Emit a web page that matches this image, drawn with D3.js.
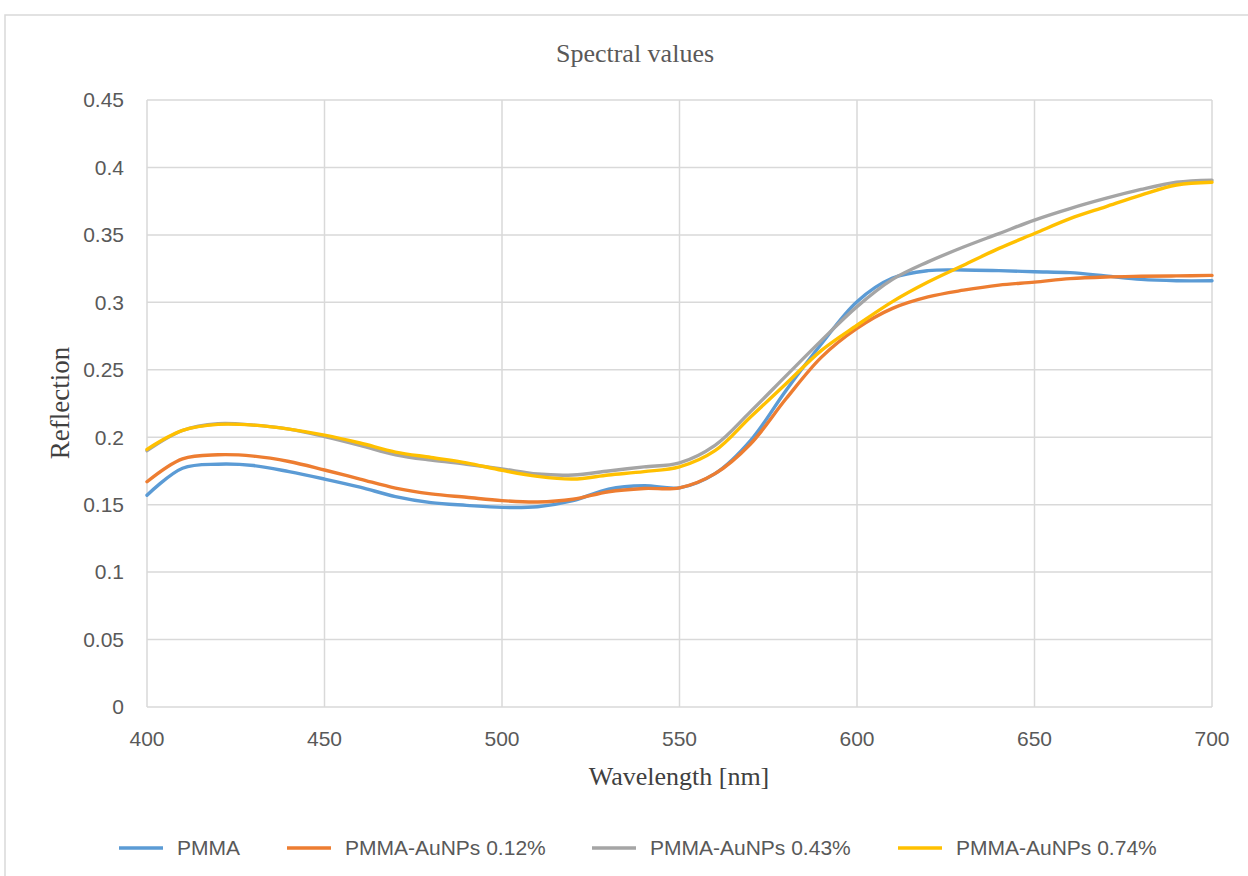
<!DOCTYPE html>
<html><head><meta charset="utf-8">
<script src="https://cdn.jsdelivr.net/npm/d3@7"></script>
<style>body{margin:0;background:#fff}svg{display:block}</style>
</head><body>
<svg id="c" width="1248" height="876"></svg>
<script>
const wavelengths = [400,410,420,430,440,450,460,470,480,490,500,510,520,530,540,550,560,570,580,590,600,610,620,630,640,650,660,670,680,690,700];
const pmma   = [0.157,0.177,0.180,0.179,0.1745,0.169,0.163,0.156,0.1515,0.1495,0.148,0.1485,0.153,0.1615,0.164,0.1625,0.173,0.1975,0.2347,0.2693,0.3005,0.318,0.3235,0.324,0.3235,0.3227,0.322,0.3196,0.317,0.316,0.316];
const au012  = [0.167,0.184,0.187,0.186,0.182,0.1757,0.169,0.1623,0.158,0.1555,0.153,0.152,0.154,0.1596,0.162,0.1625,0.173,0.195,0.2285,0.2594,0.2807,0.2955,0.304,0.309,0.3128,0.315,0.3176,0.3188,0.3193,0.3196,0.320];
const au043  = [0.190,0.205,0.210,0.209,0.206,0.2005,0.194,0.187,0.183,0.180,0.1765,0.1727,0.172,0.175,0.178,0.181,0.194,0.219,0.2455,0.2718,0.2968,0.317,0.330,0.341,0.351,0.361,0.3695,0.377,0.3837,0.389,0.3906];
const au074  = [0.191,0.205,0.2095,0.209,0.206,0.2015,0.1957,0.189,0.185,0.181,0.1755,0.171,0.169,0.172,0.1745,0.178,0.190,0.215,0.2396,0.2644,0.283,0.3005,0.315,0.3275,0.340,0.351,0.362,0.3708,0.3795,0.387,0.389];
const seriesNames = ["PMMA","PMMA-AuNPs 0.12%","PMMA-AuNPs 0.43%","PMMA-AuNPs 0.74%"];
const seriesValues = [pmma, au012, au043, au074];
const colors = ["#5B9BD5","#ED7D31","#A5A5A5","#FFC000"];
const xTicks = [400,450,500,550,600,650,700];
const yTicks = [0,0.05,0.1,0.15,0.2,0.25,0.3,0.35,0.4,0.45];
const yTickLabels = ["0","0.05","0.1","0.15","0.2","0.25","0.3","0.35","0.4","0.45"];

const svg = d3.select("#c");
svg.append("rect").attr("x",5).attr("y",15).attr("width",1260).attr("height",880)
  .attr("fill","#fff").attr("stroke","#d9d9d9").attr("stroke-width",1.5);

const x = d3.scaleLinear().domain([400,700]).range([147,1212]);
const y = d3.scaleLinear().domain([0,0.45]).range([707,100]);

const g = svg.append("g");
g.selectAll(".hg").data(yTicks).join("line")
  .attr("x1",147).attr("x2",1212).attr("y1",d=>y(d)).attr("y2",d=>y(d))
  .attr("stroke","#d9d9d9").attr("stroke-width",1.5);
g.selectAll(".vg").data(xTicks).join("line")
  .attr("y1",100).attr("y2",707).attr("x1",d=>x(d)).attr("x2",d=>x(d))
  .attr("stroke","#d9d9d9").attr("stroke-width",1.5);

const font = "'Liberation Sans', Arial, sans-serif";
g.selectAll(".yl").data(yTicks).join("text")
  .attr("x",124).attr("y",d=>y(d)).attr("dy","0.35em").attr("text-anchor","end")
  .attr("font-family",font).attr("font-size",21).attr("fill","#595959")
  .text((d,i)=>yTickLabels[i]);
g.selectAll(".xl").data(xTicks).join("text")
  .attr("x",d=>x(d)).attr("y",746).attr("text-anchor","middle")
  .attr("font-family",font).attr("font-size",21).attr("fill","#595959")
  .text(d=>d);

const line = d3.line().x((d,i)=>x(wavelengths[i])).y(d=>y(d)).curve(d3.curveCatmullRom.alpha(0.5));
seriesValues.forEach((vals,k)=>{
  g.append("path").attr("d",line(vals)).attr("fill","none")
   .attr("stroke",colors[k]).attr("stroke-width",3.4).attr("stroke-linecap","round");
});

const serif = "'Liberation Serif', 'Times New Roman', serif";
svg.append("text").attr("x",635).attr("y",62).attr("text-anchor","middle")
  .attr("font-family",serif).attr("font-size",26).attr("fill","#595959").text("Spectral values");
svg.append("text").attr("transform","translate(69,403) rotate(-90)").attr("text-anchor","middle")
  .attr("font-family",serif).attr("font-size",27).attr("fill","#404040").text("Reflection");
svg.append("text").attr("x",679).attr("y",785).attr("text-anchor","middle")
  .attr("font-family",serif).attr("font-size",26).attr("fill","#404040").text("Wavelength [nm]");

const legX = [119,287,592,898];
seriesNames.forEach((n,k)=>{
  svg.append("line").attr("x1",legX[k]).attr("x2",legX[k]+44).attr("y1",848).attr("y2",848)
    .attr("stroke",colors[k]).attr("stroke-width",3.4);
  svg.append("text").attr("x",legX[k]+58).attr("y",848).attr("dy","0.35em")
    .attr("font-family",font).attr("font-size",21).attr("fill","#595959").text(n);
});
</script>
</body></html>
